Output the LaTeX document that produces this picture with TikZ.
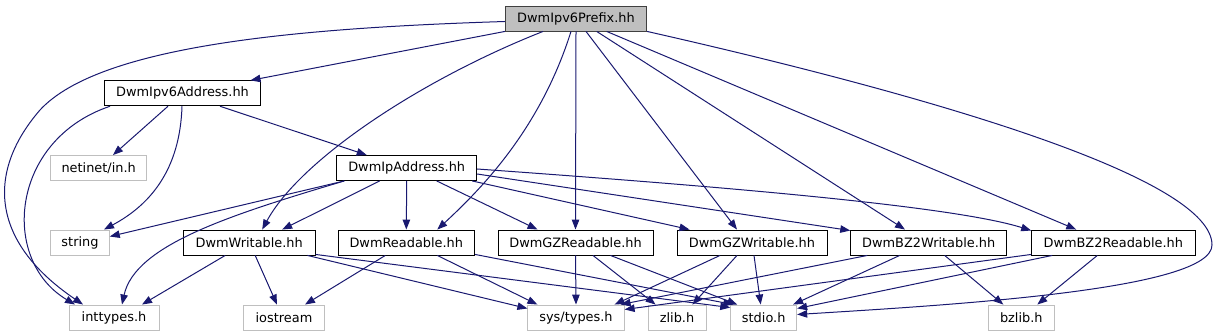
\documentclass[tikz,border=0pt]{standalone}
\usepackage{fontspec}
\setmainfont{DejaVu Sans}
\usetikzlibrary{arrows.meta,calc}
\definecolor{edgeblue}{RGB}{25,25,112}
\definecolor{greyfill}{RGB}{191,191,191}
\definecolor{greyline}{RGB}{191,191,191}
\tikzset{
  filebox/.style={draw=black, line width=0.9pt, fill=white, rectangle, inner sep=0pt,
    minimum height=25pt, text=black, font=\fontsize{12.9}{15}\selectfont},
  rootbox/.style={filebox, fill=greyfill, draw={rgb,255:red,64;green,64;blue,64}},
  sysbox/.style={filebox, draw=greyline},
  dep/.style={draw=edgeblue, line width=1pt, -{Triangle[length=10pt,width=7.5pt]}, fill=none}
}
\begin{document}
\begin{tikzpicture}[x=1pt,y=-1pt]
\useasboundingbox (0,0) rectangle (1218,336);
% nodes
\node[rootbox, minimum width=141.4pt] (root) at (576,18.5) {DwmIpv6Prefix.hh};
\node[filebox, minimum width=156.4pt] (ipv6) at (182.5,93.3) {DwmIpv6Address.hh};
\node[sysbox, minimum width=96pt] (netinet) at (98.7,168) {netinet/in.h};
\node[filebox, minimum width=140pt] (ipaddr) at (406.7,168) {DwmIpAddress.hh};
\node[sysbox, minimum width=58.6pt] (string) at (80,242.5) {string};
\node[filebox, minimum width=131.7pt] (writable) at (249.2,242.5) {DwmWritable.hh};
\node[filebox, minimum width=136.7pt] (readable) at (406.3,242.5) {DwmReadable.hh};
\node[filebox, minimum width=155pt] (gzread) at (575.5,242.5) {DwmGZReadable.hh};
\node[filebox, minimum width=150pt] (gzwrite) at (752,242.5) {DwmGZWritable.hh};
\node[filebox, minimum width=156pt] (bzwrite) at (928.7,242.5) {DwmBZ2Writable.hh};
\node[filebox, minimum width=163.3pt] (bzread) at (1113.3,242.5) {DwmBZ2Readable.hh};
\node[sysbox, minimum width=90pt] (inttypes) at (114,317.5) {inttypes.h};
\node[sysbox, minimum width=80.3pt] (iostream) at (284,317.5) {iostream};
\node[sysbox, minimum width=96.3pt] (systypes) at (576,317.5) {sys/types.h};
\node[sysbox, minimum width=58pt] (zlib) at (677,317.5) {zlib.h};
\node[sysbox, minimum width=66pt] (stdio) at (763.7,317.5) {stdio.h};
\node[sysbox, minimum width=65.3pt] (bzlib) at (1021.3,317.5) {bzlib.h};
% edges from root
\draw[dep] ($(root.west)+(0,3)$) .. controls (300,28) and (100,45) .. (40,110)
  .. controls (-12,170) and (-12,240) .. ($(inttypes.north)+(-31,0)$);
\draw[dep] (root.south west) -- ($(ipv6.north)+(68,0)$);
\draw[dep] ($(root.south)+(-33,0)$) .. controls (420,80) and (300,160) .. ($(writable.north)+(13,0)$);
\draw[dep] ($(root.south)+(-5,0)$) .. controls (540,130) and (480,190) .. ($(readable.north)+(31,0)$);
\draw[dep] (root.south) -- (gzread.north);
\draw[dep] ($(root.south)+(10,0)$) -- ($(gzwrite.north)+(-15,0)$);
\draw[dep] ($(root.south)+(20.7,0)$) -- ($(bzwrite.north)+(-23.7,0)$);
\draw[dep] ($(root.south)+(30.7,0)$) -- ($(bzread.north)+(-37,0)$);
\draw[dep] (root.south east) .. controls (950,100) and (1212,180) .. (1212,245)
  .. controls (1212,290) and (950,305) .. ($(stdio.east)+(0,-3)$);
% edges from ipv6
\draw[dep] ($(ipv6.south)+(-72.5,0)$) .. controls (10,140) and (0,260) .. ($(inttypes.north)+(-39,0)$);
\draw[dep] ($(ipv6.south)+(-14.5,0)$) -- ($(netinet.north)+(14.3,0)$);
\draw[dep] ($(ipv6.south)+(-0.5,0)$) .. controls (180,170) and (150,205) .. ($(string.north)+(24,0)$);
\draw[dep] ($(ipv6.south)+(37.5,0)$) -- ($(ipaddr.north)+(-40,0)$);
% edges from ipaddr
\draw[dep] ($(ipaddr.south west)+(8,0)$) -- ($(string.east)+(0,-6)$);
\draw[dep] ($(ipaddr.south west)+(8,0)$) .. controls (230,215) and (135,245) .. ($(inttypes.north)+(8,0)$);
\draw[dep] ($(ipaddr.south)+(-27,0)$) -- ($(writable.north)+(33,0)$);
\draw[dep] (ipaddr.south) -- (readable.north);
\draw[dep] ($(ipaddr.south)+(30,0)$) -- ($(gzread.north)+(-38,0)$);
\draw[dep] ($(ipaddr.south east)+(-5,0)$) -- ($(gzwrite.north west)+(13,0)$);
\draw[dep] ($(ipaddr.east)+(0,6)$) -- ($(bzwrite.north west)+(0,1)$);
\draw[dep] ($(ipaddr.east)+(0,1)$) .. controls (700,185) and (950,205) .. ($(bzread.north west)+(0,1)$);
% edges from writable
\draw[dep] ($(writable.south)+(-24,0)$) -- ($(inttypes.north)+(28,0)$);
\draw[dep] ($(writable.south)+(6,0)$) -- ($(iostream.north)+(-7,0)$);
\draw[dep] ($(writable.south east)+(-8,0)$) -- ($(systypes.west)+(0,-9)$);
\draw[dep] ($(writable.south east)+(0,-1)$) -- ($(stdio.north west)+(0,3)$);
% edges from readable
\draw[dep] ($(readable.south)+(-21,0)$) -- ($(iostream.north)+(21,0)$);
\draw[dep] ($(readable.south)+(31,0)$) -- ($(systypes.north west)+(10,0)$);
\draw[dep] ($(readable.south east)+(0,-1)$) -- ($(stdio.north west)+(3,0)$);
% edges from gzread
\draw[dep] (gzread.south) -- (systypes.north);
\draw[dep] ($(gzread.south)+(17.5,0)$) -- ($(zlib.north west)+(8,0)$);
\draw[dep] ($(gzread.south)+(35,0)$) -- ($(stdio.north west)+(7,0)$);
% edges from gzwrite
\draw[dep] ($(gzwrite.south)+(-32,0)$) -- ($(systypes.north east)+(-10,0)$);
\draw[dep] ($(gzwrite.south)+(-15,0)$) -- ($(zlib.north east)+(-14,0)$);
\draw[dep] ($(gzwrite.south)+(2,0)$) -- ($(stdio.north)+(-3,0)$);
% edges from bzwrite
\draw[dep] ($(bzwrite.south west)+(17,0)$) -- ($(systypes.north east)+(-4,0)$);
\draw[dep] ($(bzwrite.south)+(-29,0)$) -- ($(stdio.north east)+(-4,0)$);
\draw[dep] ($(bzwrite.south)+(16,0)$) -- ($(bzlib.north)+(-18,0)$);
% edges from bzread
\draw[dep] ($(bzread.south west)+(0,-1)$) -- ($(systypes.east)+(0,-8)$);
\draw[dep] ($(bzread.south west)+(21,0)$) -- ($(stdio.east)+(0,-9)$);
\draw[dep] ($(bzread.south)+(-16,0)$) -- ($(bzlib.north)+(16,0)$);
\end{tikzpicture}
\end{document}
